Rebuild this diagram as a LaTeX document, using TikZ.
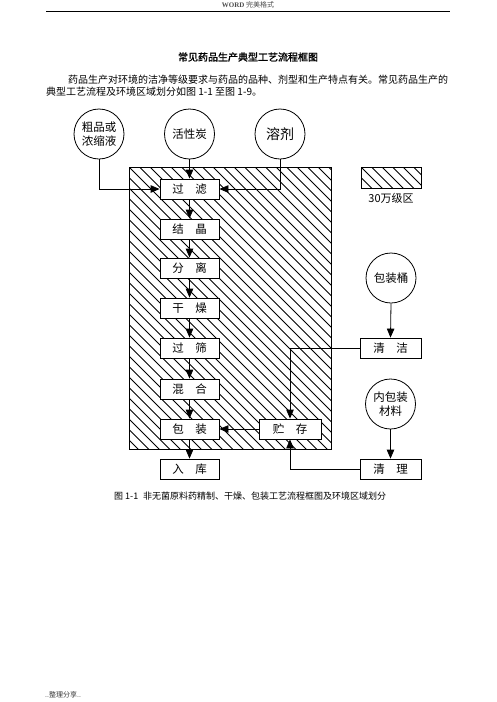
\documentclass[tikz,border=0pt]{standalone}
\usepackage{fontspec}
\setmainfont{Noto Sans CJK SC}
\newfontfamily\titlefont[FakeBold=1.5]{Noto Sans CJK SC}
\newfontfamily\hdrfont{Liberation Serif}
\usetikzlibrary{arrows.meta}
\newcommand\mygap{\hspace{1em}}
\begin{document}
\begin{tikzpicture}[x=1pt,y=-1pt,
  proc/.style={draw, fill=white, line width=0.8pt, minimum width=59pt, minimum height=20pt, inner sep=0pt, font=\fontsize{11.5}{12}\selectfont},
  src/.style={draw, fill=white, circle, line width=0.8pt, minimum size=50pt, inner sep=0pt, font=\fontsize{11.5}{13.5}\selectfont, align=center},
  arr/.style={line width=0.8pt, -{Triangle[length=9pt,width=7.5pt]}},
  hatchline/.style={line width=0.9pt},
  txt/.style={inner sep=0pt}
]
\useasboundingbox (0,0) rectangle (496,702);
% header
\node[txt, font=\fontsize{7}{8}\selectfont, text=black!70] (hdr) at (248,5) {{\hdrfont\bfseries WORD} 完美格式};
\coordinate (hl) at (46,11.5);
\coordinate (hr) at (450,11.5);
\draw[line width=0.9pt] (hl) -- (hr);
% title and paragraph
\node[txt, font=\titlefont\fontsize{10}{12}\selectfont] (title) at (248,57) {常见药品生产典型工艺流程框图};
\node[txt, anchor=west, font=\fontsize{10}{12}\selectfont] (p1) at (68,80) {药品生产对环境的洁净等级要求与药品的品种、剂型和生产特点有关。常见药品生产的};
\node[txt, anchor=west, font=\fontsize{10}{12}\selectfont] (p2) at (46,91.5) {典型工艺流程及环境区域划分如图 1-1 至图 1-9。};
% hatched area
\begin{scope}
\clip (129,167) rectangle (331,449);
\foreach \i in {-30,...,22} {
  \draw[hatchline] ({129+\i*10.5},167) -- ({129+\i*10.5+290},457);
}
\end{scope}
\draw[line width=0.8pt] (129,167) rectangle (331,449);
% legend
\begin{scope}
\clip (361,167) rectangle (421,188);
\foreach \i in {-3,...,7} {
  \draw[hatchline] ({361+\i*10.5},167) -- ({361+\i*10.5+25},192);
}
\end{scope}
\draw[line width=0.8pt] (361,167) rectangle (421,188);
\node[txt, font=\fontsize{11}{12}\selectfont] (leg) at (391,198) {30万级区};
% sources
\node[src] (c1) at (99,134) {粗品或\\浓缩液};
\node[src] (c2) at (189.5,134) {活性炭};
\node[src, font=\fontsize{14}{15}\selectfont] (c3) at (280,134) {溶剂};
\node[src] (pb) at (391,278) {包装桶};
\node[src] (nb) at (390.5,404) {内包装\\材料};
% process boxes
\node[proc] (b1) at (189.5,189) {过\mygap 滤};
\node[proc] (b2) at (189.5,229) {结\mygap 晶};
\node[proc] (b3) at (189.5,268) {分\mygap 离};
\node[proc] (b4) at (189.5,308) {干\mygap 燥};
\node[proc] (b5) at (189.5,348) {过\mygap 筛};
\node[proc] (b6) at (189.5,389) {混\mygap 合};
\node[proc] (b7) at (189.5,429) {包\mygap 装};
\node[proc] (b8) at (189.5,469) {入\mygap 库};
\node[proc, minimum width=62pt] (st) at (290,429) {贮\mygap 存};
\node[proc, minimum width=61pt] (qj) at (390.5,348) {清\mygap 洁};
\node[proc, minimum width=61pt] (ql) at (390.5,469) {清\mygap 理};
% connectors
\draw[arr] (c1.south) |- (b1.west);
\draw[arr] (c2.south) -- (b1.north);
\draw[arr] (c3.south) |- (b1.east);
\draw[arr] (b1.south) -- (b2.north);
\draw[arr] (b2.south) -- (b3.north);
\draw[arr] (b3.south) -- (b4.north);
\draw[arr] (b4.south) -- (b5.north);
\draw[arr] (b5.south) -- (b6.north);
\draw[arr] (b6.south) -- (b7.north);
\draw[arr] (b7.south) -- (b8.north);
\draw[arr] (st.west) -- (b7.east);
\draw[arr] (pb.south) -- (qj.north);
\draw[arr] (qj.west) -| (st.north);
\draw[arr] (nb.south) -- (ql.north);
\draw[arr] (ql.west) -| (st.south);
% caption
\node[txt, anchor=west, font=\fontsize{9}{10}\selectfont] (cap1) at (114,496) {图 1-1};
\node[txt, anchor=west, font=\fontsize{9}{10}\selectfont] (cap2) at (143,496) {非无菌原料药精制、干燥、包装工艺流程框图及环境区域划分};
% footer
\node[txt, anchor=west, font=\fontsize{7}{8}\selectfont, text=black!80] (ftr) at (45,695) {..整理分享..};
\end{tikzpicture}
\end{document}
